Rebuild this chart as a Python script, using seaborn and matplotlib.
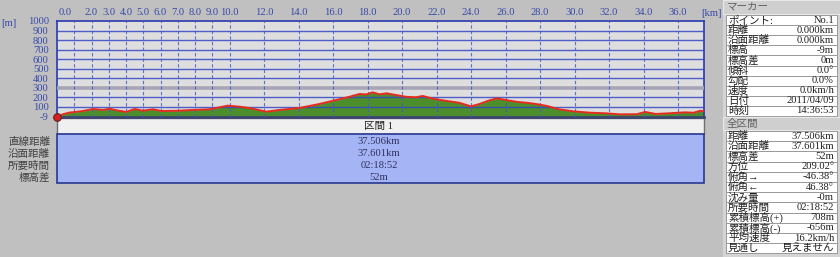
import matplotlib
matplotlib.use('Agg')
import matplotlib.pyplot as plt
import seaborn as sns
import pandas as pd
from matplotlib.patches import Rectangle

# ---------------- data ----------------
dist_km = [0.0, 0.35, 0.73, 1.1, 1.5, 2.08, 2.66, 3.05, 3.43, 4.01, 4.5, 4.98, 5.56,
           6.04, 6.9, 7.88, 8.85, 9.43, 9.9, 10.6, 11.17, 11.75, 12.13, 12.9, 14.06,
           15.22, 16.19, 16.96, 17.54, 17.93, 18.3, 18.7, 19.1, 19.65, 20.2, 20.8,
           21.2, 21.8, 22.5, 23.3, 23.8, 24.0, 24.5, 25.0, 25.5, 26.0, 26.7, 27.2,
           27.9, 28.4, 29.1, 29.9, 30.9, 31.8, 32.6, 33.6, 34.1, 34.7, 35.5, 36.4,
           36.9, 37.3, 37.5]
elev_m = [-9, 20, 38, 45, 54, 75, 65, 78, 62, 44, 75, 57, 72,
          54, 56, 65, 72, 93, 110, 99, 85, 62, 47, 65, 86,
          128, 170, 204, 233, 228, 250, 229, 240, 222, 204, 198,
          212, 183, 162, 141, 114, 103, 128, 162, 187, 170, 149, 141,
          124, 107, 72, 51, 36, 30, 19, 20, 44, 23, 30, 40,
          36, 57, 50]

x_tick_pos = [0.46, 2, 3, 4, 5, 6, 7, 8, 9, 10, 12, 14, 16, 18, 20, 22, 24, 26, 28,
              30, 32, 34, 36]
x_tick_labels = ['0.0', '2.0', '3.0', '4.0', '5.0', '6.0', '7.0', '8.0', '9.0', '10.0',
                 '12.0', '14.0', '16.0', '18.0', '20.0', '22.0', '24.0', '26.0', '28.0',
                 '30.0', '32.0', '34.0', '36.0']
x_grid_km = [1, 2, 3, 4, 5, 6, 7, 8, 9, 10, 12, 14, 16, 18, 20, 22, 24, 26, 28, 30,
             32, 34, 36]
y_tick_pos = [-9, 100, 200, 300, 400, 500, 600, 700, 800, 900, 1000]
y_tick_labels = ['-9', '100', '200', '300', '400', '500', '600', '700', '800', '900', '1000']
y_grid_blue = [100, 200, 400, 500, 600, 700, 800, 900]
y_grid_gray = [300]

section_header = '区間 1'
section_labels = ['直線距離', '沿面距離', '所要時間', '標高差']
section_values = ['37.506km', '37.601km', '02:18:52', '52m']

marker_labels = ['ポイント:', '距離', '沿面距離', '標高', '標高差', '傾斜', '勾配',
                 '速度', '日付', '時刻']
marker_values = ['No.1', '0.000km', '0.000km', '-9m', '0m', '0.0°', '0.0%',
                 '0.0km/h', '2011/04/09', '14:36:53']
total_labels = ['距離', '沿面距離', '標高差', '方位', '俯角→', '俯角←', '沈み量',
                '所要時間', '累積標高(+)', '累積標高(-)', '平均速度', '見通し']
total_values = ['37.506km', '37.601km', '52m', '209.02°', '-46.38°', '46.38°', '-0m',
                '02:18:52', '708m', '-656m', '16.2km/h', '見えません']

# ---------------- style ----------------
sns.set_style('white')
plt.rcParams['font.family'] = ['Liberation Serif', 'Noto Sans CJK JP']
FS = 7.6
BLUE_TXT = '#3848a8'

W, H = 840, 257
fig = plt.figure(figsize=(8.4, 2.57), dpi=100, facecolor='#c0c0c0')

# background overlay in pixel coordinates
bg = fig.add_axes([0, 0, 1, 1])
bg.set_xlim(0, W)
bg.set_ylim(H, 0)
bg.axis('off')

# ---------------- main profile ----------------
L, R, T, B = 57, 704, 21, 117
ax = fig.add_axes([L / W, 1 - B / H, (R - L) / W, (B - T) / H])
ax.set_facecolor('#dedede')
df = pd.DataFrame({'km': dist_km, 'm': elev_m})
ax.fill_between(df['km'], df['m'], -9, color='#4c8e2c', zorder=2, lw=0)
ax.hlines(y_grid_blue, 0, 37.506, color='#3446c6', lw=1, zorder=3, alpha=0.85)
ax.hlines(y_grid_gray, 0, 37.506, color='#a6a6b8', lw=2.6, zorder=3)
ax.vlines(x_grid_km, -9, 1000, color='#4a5ac8', lw=0.8, linestyles=(0, (3, 2)),
          zorder=3, alpha=0.85)
sns.lineplot(data=df, x='km', y='m', ax=ax, color='#e62a1e', lw=1.4, zorder=4,
             sort=False)
ax.scatter([0], [-9], s=30, color='#d82020', edgecolor='#602020', lw=0.8,
           zorder=6, clip_on=False)
ax.set_xlim(0, 37.506)
ax.set_ylim(-9, 1000)
ax.set_xlabel('')
ax.set_ylabel('')
ax.xaxis.tick_top()
ax.set_xticks(x_tick_pos, x_tick_labels)
ax.set_yticks(y_tick_pos, y_tick_labels)
ax.tick_params(axis='both', length=0, labelsize=FS, colors=BLUE_TXT)
ax.tick_params(axis='x', pad=3)
ax.tick_params(axis='y', pad=6)
for s in ['top', 'left', 'right']:
    ax.spines[s].set_color('#2838b0')
    ax.spines[s].set_linewidth(1.2)
ax.spines['bottom'].set_color('#3c4470')
ax.spines['bottom'].set_linewidth(2)

bg.text(712, 13, '[km]', fontsize=FS, color=BLUE_TXT, ha='center', va='center')
bg.text(9, 24, '[m]', fontsize=FS, color=BLUE_TXT, ha='center', va='center')

# ---------------- section table ----------------
bg.add_patch(Rectangle((L, 118), R - L, 16, fc='#f0f0f0', ec='#707070', lw=1))
bg.add_patch(Rectangle((L, 134), R - L, 49, fc='#a4b4f4', ec='#283890', lw=1.2))
cx = 379
bg.text(cx, 126.5, section_header, fontsize=FS, color='#202020', ha='center', va='center')
row_y = [141.5, 153.5, 166, 178]
for lab, val, y in zip(section_labels, section_values, row_y):
    bg.text(50, y, lab, fontsize=FS, color='#404040', ha='right', va='center')
    bg.text(cx, y, val, fontsize=FS, color='#303060', ha='center', va='center')

# ---------------- right panel ----------------
bg.add_patch(Rectangle((723, 0), W - 723, H, fc='#d4d4d4', ec='none'))
bg.add_patch(Rectangle((723, 0), W - 723, 14, fc='#cfcfcf', ec='#e8e8e8', lw=0.8))
bg.text(727, 7, 'マーカー', fontsize=FS, color='#606060', ha='left', va='center')

def table(labels, values, y0, rh):
    for i, (lab, val) in enumerate(zip(labels, values)):
        y = y0 + i * rh
        bg.add_patch(Rectangle((726, y), 111, rh, fc='white', ec='#9a9a9a', lw=0.7))
        bg.text(728, y + rh / 2, lab, fontsize=FS, color='#202020', ha='left', va='center')
        bg.text(834, y + rh / 2, val, fontsize=FS, color='#202020', ha='right', va='center')

table(marker_labels, marker_values, 15, 10.1)
bg.add_patch(Rectangle((723, 117), W - 723, 13, fc='#cfcfcf', ec='#e8e8e8', lw=0.8))
bg.text(727, 124, '全区間', fontsize=FS, color='#606060', ha='left', va='center')
table(total_labels, total_values, 131, 10.2)

fig.savefig('out.png', dpi=100, facecolor=fig.get_facecolor())
